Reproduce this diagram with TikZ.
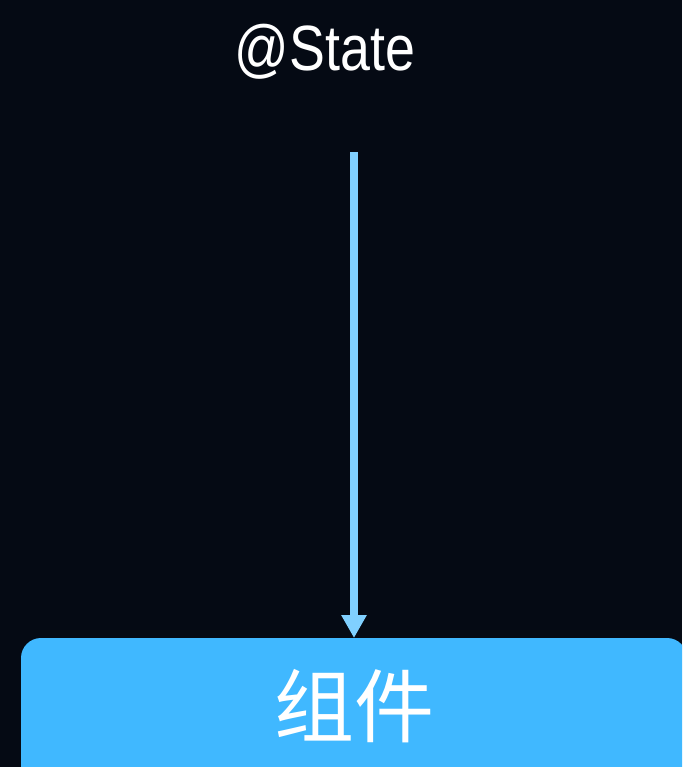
\documentclass[tikz,border=0pt]{standalone}
\usepackage{fontspec}
\setmainfont{Liberation Sans}
\newfontfamily\cjk{Noto Sans CJK SC}
\usetikzlibrary{arrows.meta}
\definecolor{bgdark}{RGB}{5,10,20}
\definecolor{arrowblue}{RGB}{128,208,255}
\definecolor{boxblue}{RGB}{64,184,255}

\begin{document}
\begin{tikzpicture}[x=1pt,y=-1pt,
    flow/.style={-{Triangle[width=24pt,length=23pt]},line width=8pt,arrowblue},
    compbox/.style={fill=boxblue,rounded corners=20pt,minimum width=666pt,minimum height=150pt,outer sep=0pt,inner sep=0pt}]
    %background
    \clip (0,0) rectangle (682,767);
    \fill [bgdark] (0,0) rectangle (682,767);
    %label
    \node [anchor=base,text=white,font=\fontsize{64}{64}\selectfont,xscale=0.84] (state) at (325,71) {@State};
    %component
    \node [compbox] (comp) at (354,713) {};
    \node [text=white,font=\cjk\fontsize{80}{80}\selectfont] (compname) at (354,706) {组件};
    %arrow
    \coordinate (src) at (354,152);
    \draw [flow] (src) -- (comp.north);
  \end{tikzpicture}
\end{document}
